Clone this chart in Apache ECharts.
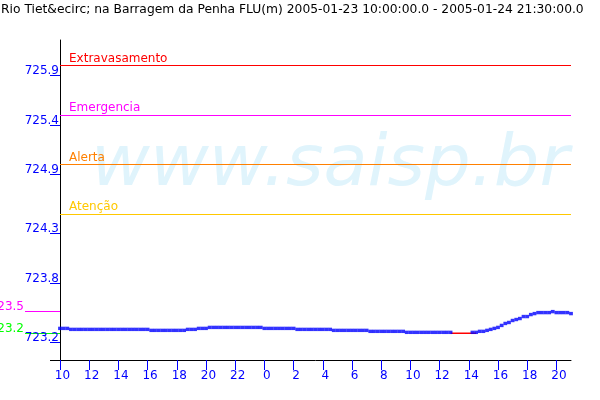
<!DOCTYPE html>
<html>
<head>
<meta charset="utf-8">
<script src="https://cdn.jsdelivr.net/npm/echarts@6/dist/echarts.min.js"></script>
<style>html,body{margin:0;padding:0;background:#fff}#c{width:600px;height:400px}</style>
</head>
<body>
<div id="c"></div>
<script>
// ---- data ----
const titleText = 'Rio Tiet&ecirc; na Barragem da Penha FLU(m) 2005-01-23 10:00:00.0 - 2005-01-24 21:30:00.0';
const startHour = 10;          // 2005-01-23 10:00
const stepHours = 0.25;        // one reading every 15 minutes
const levelValues = [
  723.34, 723.34, 723.34,
  723.33, 723.33, 723.33, 723.33, 723.33, 723.33, 723.33, 723.33, 723.33, 723.33, 723.33,
  723.33, 723.33, 723.33, 723.33, 723.33, 723.33, 723.33, 723.33, 723.33, 723.33, 723.33,
  723.32, 723.32, 723.32, 723.32, 723.32, 723.32, 723.32, 723.32, 723.32, 723.32,
  723.33, 723.33, 723.33,
  723.34, 723.34, 723.34,
  723.35, 723.35, 723.35, 723.35, 723.35, 723.35, 723.35, 723.35, 723.35, 723.35, 723.35, 723.35, 723.35, 723.35, 723.35,
  723.34, 723.34, 723.34, 723.34, 723.34, 723.34, 723.34, 723.34, 723.34,
  723.33, 723.33, 723.33, 723.33, 723.33, 723.33, 723.33, 723.33, 723.33, 723.33,
  723.32, 723.32, 723.32, 723.32, 723.32, 723.32, 723.32, 723.32, 723.32, 723.32,
  723.31, 723.31, 723.31, 723.31, 723.31, 723.31, 723.31, 723.31, 723.31, 723.31,
  723.30, 723.30, 723.30, 723.30, 723.30, 723.30, 723.30, 723.30, 723.30, 723.30, 723.30, 723.30, 723.30,
  null, null, null, null, null,
  723.30,
  723.30, 723.31,
  723.31, 723.32, 723.33, 723.34, 723.35, 723.37, 723.39, 723.40, 723.42, 723.43, 723.44, 723.46, 723.46,
  723.48, 723.49, 723.50, 723.50, 723.50, 723.50, 723.51, 723.50, 723.50, 723.50, 723.50, 723.49
];
const gapHours = [26.75, 28.5];
const gapValues = [723.29, 723.29];
const thresholdNames = ['Extravasamento', 'Emergencia', 'Alerta', 'Aten\u00e7\u00e3o'];
const thresholdValues = [726.0, 725.5, 725.0, 724.5];
const thresholdColors = ['#ff0000', '#ff00ff', '#ff8000', '#ffc800'];
const yTickValues = [723.2, 723.8, 724.3, 724.9, 725.4, 725.9];
const xTickHours = [0, 2, 4, 6, 8, 10, 12, 14, 16, 18, 20, 22, 24, 26, 28, 30, 32, 34];
const yMin = 723.02, yMax = 726.26;
const xMax = 35;

// ---- build ----
const blueData = levelValues.map((v, i) => [i * stepHours, v]);
const redData = gapHours.map((h, i) => [h, gapValues[i]]);
const allVals = levelValues.filter(v => v !== null).concat(gapValues);
const maxVal = Math.max.apply(null, allVals);
const minVal = Math.min.apply(null, allVals);
const trunc1 = v => (Math.floor(v * 10 + 1e-6) / 10).toFixed(1);
const FONT = 'DejaVu Sans';
const BLUE = '#0000ff';

function sideAxis(val, color, tickLen, showLabel) {
  return {
    type: 'value', min: yMin, max: yMax, position: 'left', offset: 0,
    axisLine: { show: false },
    splitLine: { show: false },
    axisTick: { show: true, customValues: [val], length: tickLen, lineStyle: { color: color, width: 1 } },
    axisLabel: { show: showLabel, customValues: [val], margin: 36, color: color, fontSize: 12, fontFamily: FONT,
      verticalAlign: 'bottom', lineHeight: 9, formatter: v => trunc1(v) }
  };
}

const chart = echarts.init(document.getElementById('c'), null, { renderer: 'canvas' });
chart.setOption({
  animation: false,
  backgroundColor: '#ffffff',
  title: {
    text: titleText, left: 0, top: 4, padding: [0, 0, 0, 1],
    textStyle: { fontSize: 12.3, fontWeight: 'normal', color: '#000', fontFamily: FONT }
  },
  graphic: [{
    type: 'text', x: 330, y: 202, z: -10, silent: true,
    style: { text: 'www.saisp.br', fill: '#e0f4fc', fontSize: 72, fontStyle: 'italic',
      fontFamily: FONT, textAlign: 'center', textVerticalAlign: 'bottom' }
  }],
  grid: { left: 60, top: 40, right: 29, bottom: 40, containLabel: false, outerBoundsMode: 'none' },
  xAxis: {
    type: 'value', min: 0, max: xMax,
    axisLine: { show: true, lineStyle: { color: '#000', width: 1 } },
    splitLine: { show: false },
    axisTick: { show: true, customValues: xTickHours, length: 10, lineStyle: { color: BLUE } },
    axisLabel: { show: true, customValues: xTickHours, margin: 10, color: BLUE, fontSize: 12, fontFamily: FONT,
      padding: [0, 0, 0, 5], formatter: v => String((v + startHour) % 24) }
  },
  yAxis: [
    {
      type: 'value', min: yMin, max: yMax, position: 'left',
      axisLine: { show: true, lineStyle: { color: '#000', width: 1 } },
      splitLine: { show: false },
      axisTick: { show: true, customValues: yTickValues, length: 10, lineStyle: { color: BLUE } },
      axisLabel: { show: true, customValues: yTickValues, margin: 1, color: BLUE, fontSize: 12, fontFamily: FONT,
        verticalAlign: 'bottom', lineHeight: 9, formatter: v => v.toFixed(1) }
    },
    sideAxis(maxVal, '#ff00ff', 35, true),
    sideAxis(minVal, '#00ff00', 35, true),
    sideAxis(yMin, '#000000', 10, false)
  ],
  series: [
    {
      type: 'line', data: redData, symbol: 'none', z: 3,
      lineStyle: { color: '#ff0000', width: 1.5 }
    },
    {
      type: 'scatter', data: blueData, symbol: 'rect', symbolSize: [3.8, 3.4], z: 4,
      itemStyle: { color: BLUE },
      markLine: {
        silent: true, symbol: 'none', animation: false,
        data: thresholdValues.map((v, i) => ({
          yAxis: v, name: thresholdNames[i],
          lineStyle: { color: thresholdColors[i], type: 'solid', width: 1 },
          label: { show: true, position: 'insideStartTop', formatter: thresholdNames[i],
            color: thresholdColors[i], fontSize: 12, fontFamily: FONT, distance: [9, 1] }
        }))
      }
    }
  ]
});
</script>
</body>
</html>
